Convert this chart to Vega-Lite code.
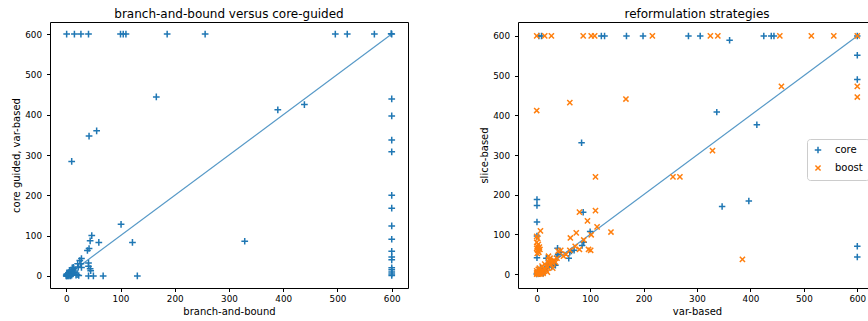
{
  "$schema": "https://vega.github.io/schema/vega-lite/v6.json",
  "padding": {"left": 11, "top": 7, "right": 0, "bottom": 0},
  "config": {
    "font": "DejaVu Sans",
    "view": {"stroke": "#000", "strokeWidth": 1},
    "axis": {"domain": false, "grid": false, "tickColor": "#000", "tickSize": 3.5, "labelColor": "#000", "titleColor": "#000", "labelFontSize": 8.8, "titleFontSize": 10, "titleFontWeight": "normal"},
    "axisX": {"labelPadding": 3, "titlePadding": 3},
    "axisY": {"labelPadding": 5, "titlePadding": 3},
    "title": {"fontSize": 12, "fontWeight": "normal", "color": "#000", "offset": 1}
  },
  "datasets": {
    "diag": [{"x": 0, "y": 0}, {"x": 600, "y": 600}],
    "bb": [
      {"x": 0.7, "y": 600}, {"x": 15, "y": 600}, {"x": 27, "y": 600}, {"x": 41, "y": 600}, {"x": 100, "y": 600}, {"x": 105, "y": 600}, {"x": 110, "y": 600}, {"x": 186, "y": 600}, {"x": 256, "y": 600}, {"x": 496, "y": 600}, {"x": 518, "y": 600}, {"x": 568, "y": 600}, {"x": 600, "y": 600}, {"x": 599, "y": 601},
      {"x": 600, "y": 439}, {"x": 600, "y": 397}, {"x": 600, "y": 337}, {"x": 600, "y": 308}, {"x": 600, "y": 200}, {"x": 600, "y": 168}, {"x": 600, "y": 124}, {"x": 600, "y": 91}, {"x": 600, "y": 61}, {"x": 600, "y": 47}, {"x": 600, "y": 40}, {"x": 600, "y": 20}, {"x": 600, "y": 15}, {"x": 600, "y": 10}, {"x": 600, "y": 5}, {"x": 600, "y": 1},
      {"x": 166, "y": 444}, {"x": 390, "y": 412}, {"x": 439, "y": 425}, {"x": 42, "y": 347}, {"x": 56, "y": 360}, {"x": 10, "y": 284},
      {"x": 101, "y": 128}, {"x": 122, "y": 83}, {"x": 329, "y": 86}, {"x": 60, "y": 83}, {"x": 47, "y": 100}, {"x": 44, "y": 87}, {"x": 42, "y": 68}, {"x": 39, "y": 63},
      {"x": 131, "y": 0}, {"x": 68, "y": 0}, {"x": 50, "y": 0}, {"x": 41, "y": 0}, {"x": 23, "y": 1}, {"x": 20, "y": 3},
      {"x": 44, "y": 18}, {"x": 41, "y": 32}, {"x": 45, "y": 13}, {"x": 41, "y": 24}, {"x": 28, "y": 43}, {"x": 25, "y": 38}, {"x": 27, "y": 30}, {"x": 21, "y": 30}, {"x": 22, "y": 22}, {"x": 28, "y": 21}, {"x": 13, "y": 21},
      {"x": 0, "y": 0}, {"x": 1, "y": 0}, {"x": 2, "y": 1}, {"x": 3, "y": 0}, {"x": 5, "y": 2}, {"x": 6, "y": 5}, {"x": 8, "y": 3}, {"x": 4, "y": 8}, {"x": 7, "y": 10}, {"x": 9, "y": 6}, {"x": 10, "y": 12}, {"x": 12, "y": 15}, {"x": 5, "y": 0}, {"x": 8, "y": 0}, {"x": 10, "y": 2}, {"x": 12, "y": 5}, {"x": 15, "y": 8}, {"x": 3, "y": 3}, {"x": 1, "y": 5}, {"x": 14, "y": 18}, {"x": 11, "y": 20}, {"x": 6, "y": 14}, {"x": 0, "y": 2}, {"x": 2, "y": 4}, {"x": 16, "y": 12}, {"x": 18, "y": 2}
    ],
    "ref": [
      {"x": 4, "y": 600, "s": "core"}, {"x": 9, "y": 600, "s": "core"}, {"x": 121, "y": 600, "s": "core"}, {"x": 127, "y": 600, "s": "core"}, {"x": 168, "y": 600, "s": "core"}, {"x": 199, "y": 600, "s": "core"}, {"x": 284, "y": 600, "s": "core"}, {"x": 306, "y": 600, "s": "core"}, {"x": 425, "y": 600, "s": "core"}, {"x": 439, "y": 600, "s": "core"}, {"x": 444, "y": 600, "s": "core"}, {"x": 361, "y": 589, "s": "core"}, {"x": 600, "y": 600, "s": "core"},
      {"x": 600, "y": 551, "s": "core"}, {"x": 600, "y": 490, "s": "core"}, {"x": 600, "y": 70, "s": "core"}, {"x": 600, "y": 43, "s": "core"},
      {"x": 84, "y": 331, "s": "core"}, {"x": 337, "y": 408, "s": "core"}, {"x": 412, "y": 376, "s": "core"}, {"x": 347, "y": 170, "s": "core"}, {"x": 397, "y": 184, "s": "core"},
      {"x": 0.5, "y": 188, "s": "core"}, {"x": 0.5, "y": 173, "s": "core"}, {"x": 0.5, "y": 131, "s": "core"}, {"x": 0.5, "y": 96, "s": "core"}, {"x": 0.5, "y": 41, "s": "core"},
      {"x": 87, "y": 156, "s": "core"}, {"x": 100, "y": 107, "s": "core"}, {"x": 85, "y": 72, "s": "core"}, {"x": 88, "y": 80, "s": "core"}, {"x": 39, "y": 65, "s": "core"}, {"x": 60, "y": 40, "s": "core"}, {"x": 62, "y": 55, "s": "core"}, {"x": 65, "y": 58, "s": "core"}, {"x": 70, "y": 60, "s": "core"}, {"x": 45, "y": 55, "s": "core"}, {"x": 40, "y": 50, "s": "core"}, {"x": 38, "y": 45, "s": "core"},
      {"x": 0, "y": 0, "s": "core"}, {"x": 2, "y": 3, "s": "core"}, {"x": 5, "y": 1, "s": "core"}, {"x": 8, "y": 5, "s": "core"}, {"x": 10, "y": 8, "s": "core"}, {"x": 12, "y": 2, "s": "core"}, {"x": 15, "y": 10, "s": "core"}, {"x": 18, "y": 15, "s": "core"}, {"x": 20, "y": 20, "s": "core"}, {"x": 22, "y": 25, "s": "core"}, {"x": 25, "y": 28, "s": "core"}, {"x": 28, "y": 18, "s": "core"}, {"x": 30, "y": 30, "s": "core"}, {"x": 32, "y": 25, "s": "core"}, {"x": 35, "y": 22, "s": "core"}, {"x": 3, "y": 10, "s": "core"}, {"x": 7, "y": 15, "s": "core"}, {"x": 18, "y": 40, "s": "core"},
      {"x": 0, "y": 600, "s": "boost"}, {"x": 15, "y": 600, "s": "boost"}, {"x": 27.5, "y": 600, "s": "boost"}, {"x": 87, "y": 600, "s": "boost"}, {"x": 102, "y": 600, "s": "boost"}, {"x": 108.5, "y": 600, "s": "boost"}, {"x": 216.5, "y": 600, "s": "boost"}, {"x": 325, "y": 600, "s": "boost"}, {"x": 339, "y": 600, "s": "boost"}, {"x": 455, "y": 600, "s": "boost"}, {"x": 514, "y": 600, "s": "boost"}, {"x": 556, "y": 600, "s": "boost"}, {"x": 600, "y": 600, "s": "boost"},
      {"x": 0, "y": 412, "s": "boost"}, {"x": 62, "y": 432, "s": "boost"}, {"x": 167, "y": 441, "s": "boost"}, {"x": 329, "y": 311, "s": "boost"}, {"x": 458, "y": 473, "s": "boost"}, {"x": 600, "y": 473, "s": "boost"}, {"x": 600, "y": 446, "s": "boost"},
      {"x": 110, "y": 245, "s": "boost"}, {"x": 255, "y": 245, "s": "boost"}, {"x": 268, "y": 245, "s": "boost"}, {"x": 385, "y": 37, "s": "boost"}, {"x": 7, "y": 109, "s": "boost"},
      {"x": 80, "y": 156, "s": "boost"}, {"x": 110, "y": 160, "s": "boost"}, {"x": 95, "y": 134, "s": "boost"}, {"x": 113, "y": 119, "s": "boost"}, {"x": 139, "y": 106, "s": "boost"}, {"x": 102, "y": 99, "s": "boost"}, {"x": 74, "y": 104, "s": "boost"}, {"x": 63, "y": 91, "s": "boost"}, {"x": 88, "y": 86, "s": "boost"}, {"x": 97, "y": 62, "s": "boost"}, {"x": 101, "y": 60, "s": "boost"}, {"x": 80, "y": 62, "s": "boost"}, {"x": 72, "y": 70, "s": "boost"}, {"x": 62, "y": 60, "s": "boost"}, {"x": 55, "y": 50, "s": "boost"}, {"x": 45, "y": 60, "s": "boost"}, {"x": 50, "y": 45, "s": "boost"}, {"x": 40, "y": 58, "s": "boost"},
      {"x": 0, "y": 95, "s": "boost"}, {"x": 2, "y": 90, "s": "boost"}, {"x": 0, "y": 80, "s": "boost"}, {"x": 3, "y": 75, "s": "boost"}, {"x": 1, "y": 70, "s": "boost"}, {"x": 5, "y": 68, "s": "boost"}, {"x": 0, "y": 65, "s": "boost"}, {"x": 2, "y": 60, "s": "boost"}, {"x": 4, "y": 55, "s": "boost"}, {"x": 1, "y": 52, "s": "boost"}, {"x": 6, "y": 62, "s": "boost"},
      {"x": 0, "y": 0, "s": "boost"}, {"x": 1, "y": 2, "s": "boost"}, {"x": 2, "y": 5, "s": "boost"}, {"x": 3, "y": 1, "s": "boost"}, {"x": 5, "y": 3, "s": "boost"}, {"x": 6, "y": 8, "s": "boost"}, {"x": 8, "y": 4, "s": "boost"}, {"x": 10, "y": 10, "s": "boost"}, {"x": 12, "y": 6, "s": "boost"}, {"x": 14, "y": 14, "s": "boost"}, {"x": 16, "y": 12, "s": "boost"}, {"x": 18, "y": 20, "s": "boost"}, {"x": 20, "y": 18, "s": "boost"}, {"x": 22, "y": 30, "s": "boost"}, {"x": 24, "y": 35, "s": "boost"}, {"x": 26, "y": 25, "s": "boost"}, {"x": 28, "y": 32, "s": "boost"}, {"x": 30, "y": 28, "s": "boost"}, {"x": 32, "y": 35, "s": "boost"}, {"x": 35, "y": 30, "s": "boost"}, {"x": 22, "y": 45, "s": "boost"}, {"x": 25, "y": 40, "s": "boost"}, {"x": 15, "y": 25, "s": "boost"}, {"x": 10, "y": 20, "s": "boost"}, {"x": 5, "y": 15, "s": "boost"}, {"x": 0, "y": 8, "s": "boost"}, {"x": 3, "y": 12, "s": "boost"}, {"x": 12, "y": 2, "s": "boost"}, {"x": 18, "y": 8, "s": "boost"}, {"x": 38, "y": 40, "s": "boost"}, {"x": 30, "y": 15, "s": "boost"}, {"x": 20, "y": 5, "s": "boost"}, {"x": 8, "y": 0, "s": "boost"}, {"x": 4, "y": 0, "s": "boost"}, {"x": 0, "y": 3, "s": "boost"}
    ]
  },
  "hconcat": [
    {
      "title": "branch-and-bound versus core-guided",
      "width": 358, "height": 266,
      "layer": [
        {
          "data": {"name": "diag"},
          "mark": {"type": "line", "color": "#1f77b4", "opacity": 0.75, "strokeWidth": 1.2},
          "encoding": {
            "x": {"field": "x", "type": "quantitative", "scale": {"domain": [-30, 630], "nice": false, "zero": false}, "axis": {"values": [0, 100, 200, 300, 400, 500, 600]}, "title": "branch-and-bound"},
            "y": {"field": "y", "type": "quantitative", "scale": {"domain": [-30, 630], "nice": false, "zero": false}, "axis": {"values": [0, 100, 200, 300, 400, 500, 600]}, "title": "core guided, var-based"}
          }
        },
        {
          "data": {"name": "bb"},
          "mark": {"type": "point", "shape": "M-1,0H1M0,-1V1", "filled": false, "stroke": "#1f77b4", "strokeWidth": 1.5, "size": 45, "opacity": 1},
          "encoding": {
            "x": {"field": "x", "type": "quantitative"},
            "y": {"field": "y", "type": "quantitative"}
          }
        }
      ]
    },
    {
      "title": "reformulation strategies",
      "width": 358, "height": 266,
      "layer": [
        {
          "data": {"name": "diag"},
          "mark": {"type": "line", "color": "#1f77b4", "opacity": 0.75, "strokeWidth": 1.2},
          "encoding": {
            "x": {"field": "x", "type": "quantitative", "scale": {"domain": [-35, 635], "nice": false, "zero": false}, "axis": {"values": [0, 100, 200, 300, 400, 500, 600]}, "title": "var-based"},
            "y": {"field": "y", "type": "quantitative", "scale": {"domain": [-35, 635], "nice": false, "zero": false}, "axis": {"values": [0, 100, 200, 300, 400, 500, 600]}, "title": "slice-based"}
          }
        },
        {
          "data": {"name": "ref"},
          "mark": {"type": "point", "filled": false, "strokeWidth": 1.5, "size": 42, "opacity": 1},
          "encoding": {
            "x": {"field": "x", "type": "quantitative"},
            "y": {"field": "y", "type": "quantitative"},
            "color": {"field": "s", "type": "nominal", "scale": {"domain": ["core", "boost"], "range": ["#1f77b4", "#ff7f0e"]}, "legend": {"title": null, "orient": "none", "legendX": 757, "legendY": 117, "strokeColor": "#cccccc", "fillColor": "rgba(255,255,255,0.8)", "padding": 6, "cornerRadius": 3, "symbolSize": 42, "symbolStrokeWidth": 1.5, "labelFontSize": 10, "labelColor": "#000", "rowPadding": 5, "labelOffset": 12}},
            "shape": {"field": "s", "type": "nominal", "scale": {"domain": ["core", "boost"], "range": ["M-1,0H1M0,-1V1", "M-0.8,-0.8L0.8,0.8M-0.8,0.8L0.8,-0.8"]}}
          }
        }
      ]
    }
  ],
  "spacing": 70
}
